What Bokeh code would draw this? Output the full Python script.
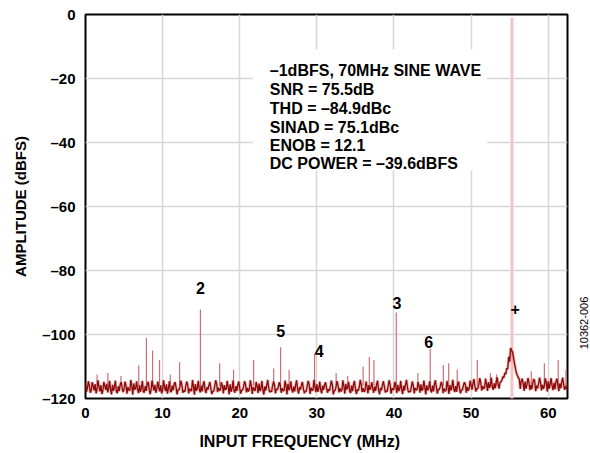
import math
from bokeh.plotting import figure
from bokeh.layouts import row
from bokeh.models import ColumnDataSource, FixedTicker, Label, Range1d
from bokeh.core.properties import value
from bokeh.embed import file_html
from bokeh.resources import INLINE

# ---------------- data ----------------
bin_step = 0.25  # MHz between FFT bins shown

# noise floor, bins at 0, 0.25, 0.5 ... 62.5 MHz (dBFS)
noise_even = [
    -115.2, -116.8, -115.9, -117.4, -116.1, -115.5, -117.0, -116.3, -115.8, -117.6, -116.0, -115.4, -116.9, -117.3, -115.7, -116.5, -117.8, -116.2, -115.6, -116.7,
    -117.1, -115.9, -116.4, -117.5, -116.0, -115.3, -116.8, -117.2, -115.8, -116.6, -117.9, -116.1, -115.5, -116.9, -117.4, -116.2, -115.7, -117.0, -116.5, -115.9,
    -117.3, -116.4, -115.6, -116.8, -117.7, -116.0, -115.4, -116.6, -117.2, -116.3, -115.8, -117.5, -116.1, -115.7, -116.9, -117.6, -116.2, -115.5, -116.7, -117.1,
    -116.0, -115.6, -117.3, -116.5, -115.9, -116.8, -117.8, -116.3, -115.4, -116.6, -117.2, -116.0, -115.8, -117.0, -116.4, -115.6, -116.9, -117.5, -116.1, -115.7,
    -116.8, -117.4, -116.2, -115.5, -116.7, -117.1, -115.9, -116.4, -117.6, -116.0, -115.3, -116.9, -117.3, -116.2, -115.8, -116.6, -117.7, -116.1, -115.6, -117.0,
    -116.4, -115.9, -116.8, -117.5, -116.0, -115.4, -116.7, -117.2, -116.3, -115.7, -117.0, -116.5, -115.8, -116.9, -117.8, -116.1, -115.5, -116.6, -117.3, -116.2,
    -115.6, -116.9, -117.4, -116.0, -115.8, -116.7, -117.1, -116.3, -115.5, -117.6, -116.2, -115.9, -116.8, -117.3, -116.1, -115.4, -116.5, -117.7, -116.0, -115.7,
    -116.9, -117.2, -116.4, -115.6, -116.8, -117.5, -116.1, -115.8, -116.6, -117.0, -116.3, -115.5, -117.4, -116.7, -115.9, -116.2, -117.6, -116.0, -115.6, -116.8,
    -117.1, -116.2, -115.7, -116.9, -117.3, -116.0, -115.5, -116.6, -117.8, -116.4, -115.8, -116.7, -117.2, -116.1, -115.6, -117.0, -116.5, -115.9, -116.8, -117.4,
    -116.0, -115.4, -116.6, -117.1, -116.3, -115.7, -116.9, -117.5, -116.2, -115.8, -116.5, -117.0, -116.1, -115.6, -116.8, -117.3, -116.0, -115.5, -116.4, -116.9,
    -115.9, -115.2, -116.3, -116.8, -115.6, -115.0, -116.1, -116.6, -115.4, -114.9, -115.8, -116.4, -115.3, -114.8, -115.5, -115.0, -114.2, -113.5, -112.4, -110.8,
    -108.5, -105.0, -107.2, -110.6, -112.8, -114.0, -114.6, -115.3, -114.7, -115.6, -114.9, -115.8, -115.2, -114.6, -116.0, -115.4, -114.8, -115.7, -116.1, -115.0,
    -114.6, -115.5, -116.0, -115.1, -114.7, -115.9, -115.3, -114.9, -115.7, -116.2, -115.4,
]

# noise floor, bins half-way between, at 0.125, 0.375 ... 62.375 MHz (dBFS)
noise_odd = [
    -117.9, -114.6, -118.2, -114.9, -117.5, -118.4, -114.3, -117.8, -118.6, -114.8, -117.3, -118.1, -114.5, -118.7, -117.6, -114.4, -118.3, -117.7, -114.9, -118.0,
    -114.7, -118.5, -117.4, -114.2, -118.8, -117.2, -114.6, -118.3, -117.9, -114.5, -118.1, -117.6, -114.8, -118.6, -114.4, -117.5, -118.2, -114.7, -117.8, -118.4,
    -114.3, -117.7, -118.5, -114.6, -118.0, -117.4, -114.9, -118.7, -117.3, -114.4, -118.2, -117.9, -114.7, -118.4, -117.5, -114.2, -118.8, -117.6, -114.5, -118.1,
    -117.8, -114.6, -118.3, -117.2, -114.8, -118.6, -117.7, -114.3, -118.0, -117.5, -114.9, -118.4, -117.3, -114.5, -118.7, -117.9, -114.4, -118.2, -117.6, -114.7,
    -118.5, -117.4, -114.6, -118.1, -117.8, -114.3, -118.6, -117.2, -114.8, -118.3, -117.7, -114.5, -118.8, -117.5, -114.2, -118.0, -117.9, -114.7, -118.4, -117.3,
    -114.9, -118.2, -117.6, -114.4, -118.7, -117.4, -114.6, -118.1, -117.8, -114.3, -118.5, -117.2, -114.8, -118.3, -117.7, -114.5, -118.6, -117.5, -114.2, -118.0,
    -117.9, -114.7, -118.4, -117.3, -114.9, -118.2, -117.6, -114.4, -118.7, -117.4, -114.6, -118.1, -117.8, -114.3, -118.5, -117.2, -114.8, -118.3, -117.7, -114.5,
    -118.6, -117.5, -114.2, -118.0, -117.9, -114.7, -118.4, -117.3, -114.9, -118.2, -117.6, -114.4, -118.7, -117.4, -114.6, -118.1, -117.8, -114.3, -118.5, -117.2,
    -114.8, -118.3, -117.7, -114.5, -118.6, -117.5, -114.2, -118.0, -117.9, -114.7, -118.4, -117.3, -114.9, -118.2, -117.6, -114.4, -118.7, -117.4, -114.6, -118.1,
    -117.8, -114.3, -118.5, -117.2, -114.8, -118.3, -117.7, -114.5, -118.6, -117.5, -114.2, -118.0, -117.9, -114.7, -118.4, -117.3, -114.9, -118.2, -117.6, -114.4,
    -117.2, -113.9, -117.8, -116.9, -113.6, -117.5, -117.0, -113.8, -117.6, -116.7, -113.5, -117.3, -116.8, -113.4, -116.9, -114.8, -113.2, -112.0, -110.5, -107.0,
    -104.2, -105.5, -109.0, -112.0, -113.5, -117.0, -113.8, -117.6, -116.9, -113.6, -117.4, -117.1, -113.9, -117.7, -116.8, -113.5, -117.5, -117.0, -113.7, -117.8,
    -116.9, -113.6, -117.4, -117.1, -113.8, -117.7, -116.8, -113.5, -117.3, -117.0,
]

# discrete spurs and harmonics (MHz, dBFS)
spur_freq = [1.5, 2.9, 4.6, 6.9, 7.9, 8.7, 9.6, 11.0, 12.2, 14.9, 17.4, 19.2, 21.8, 24.4,
             25.3, 26.4, 29.7, 32.5, 34.0, 36.0, 36.8, 37.4, 40.3, 43.1, 44.7, 46.4,
             47.1, 48.2, 50.8, 52.5, 53.3, 57.8, 59.5, 61.3, 62.3]
spur_db = [-112.5, -112.0, -113.0, -109.7, -101.0, -105.0, -108.0, -112.5, -108.7, -92.2,
           -109.0, -111.0, -108.0, -110.6, -104.0, -111.0, -106.0, -112.0, -113.0, -110.0,
           -107.0, -108.0, -93.1, -112.0, -104.5, -109.5, -109.0, -111.0, -108.0, -112.0,
           -112.5, -111.5, -109.0, -108.0, -111.0]

# fundamental
fund_freq = [55.3]
fund_db = [-1.0]

# harmonic markers
harm_text = ["2", "5", "4", "3", "6", "+"]
harm_text_freq = [14.9, 25.3, 30.3, 40.4, 44.5, 55.7]
harm_text_db = [-85.6, -98.8, -105.3, -90.0, -102.2, -91.9]

# performance summary
info_lines = ["\u20131dBFS, 70MHz SINE WAVE", "SNR = 75.5dB", "THD = \u201384.9dBc",
              "SINAD = 75.1dBc", "ENOB = 12.1", "DC POWER = \u201339.6dBFS"]
info_db = [-17.5, -23.4, -29.4, -35.3, -40.9, -46.6]
info_freq = 23.9

x_ticks = [0, 10, 20, 30, 40, 50, 60]
y_ticks = [0, -20, -40, -60, -80, -100, -120]
y_tick_labels = ["0", "\u201320", "\u201340", "\u201360", "\u201380", "\u2013100", "\u2013120"]

x_min, x_max = 0, 62.5
y_min, y_max = -120, 0
spur_base = -116.0

figure_id = "10362-006"

# ---------------- build ----------------
f_even = [i * bin_step for i in range(len(noise_even))]
f_odd = [(i + 0.5) * bin_step for i in range(len(noise_odd))]
pts = sorted(zip(f_even + f_odd, noise_even + noise_odd))
noise_src = ColumnDataSource(dict(f=[a for a, b in pts], db=[b for a, b in pts]))

FONT = "Liberation Sans"
W, H = 574, 453

p = figure(width=W, height=H, x_range=(x_min, x_max), y_range=(y_min, y_max),
           output_backend="svg", toolbar_location=None,
           min_border_left=85, min_border_right=7, min_border_top=14, min_border_bottom=55)
p.background_fill_color = "white"
p.border_fill_color = "white"
p.outline_line_color = "black"
p.outline_line_width = 2

p.xaxis.ticker = FixedTicker(ticks=x_ticks)
p.yaxis.ticker = FixedTicker(ticks=y_ticks)
p.yaxis.major_label_overrides = {t: l for t, l in zip(y_ticks, y_tick_labels)}
for ax in (p.xaxis, p.yaxis):
    ax.axis_line_color = None
    ax.major_tick_line_color = None
    ax.minor_tick_line_color = None
    ax.major_tick_out = 0
    ax.major_tick_in = 0
    ax.minor_tick_out = 0
    ax.minor_tick_in = 0
    ax.major_label_text_font = FONT
    ax.major_label_text_font_style = "bold"
    ax.major_label_text_font_size = "15px"
    ax.major_label_text_color = "black"
    ax.axis_label_text_font = FONT
    ax.axis_label_text_font_style = "bold"
    ax.axis_label_text_color = "black"
p.xaxis.axis_label = "INPUT FREQUENCY (MHz)" + "\u00a0" * 12
p.yaxis.axis_label = "AMPLITUDE (dBFS)"
p.xaxis.axis_label_text_font_size = "16px"
p.yaxis.axis_label_text_font_size = "15px"
p.yaxis.major_label_standoff = 10
p.xaxis.major_label_standoff = 9
p.yaxis.axis_label_standoff = 10
p.xaxis.axis_label_standoff = 12

for g in (p.xgrid, p.ygrid):
    g.grid_line_color = "#d6d6d6"
    g.grid_line_width = 1.5

# fundamental (light pink band + slightly darker core)
p.vbar(x=fund_freq, top=fund_db, bottom=y_min, width=0.42,
       fill_color="#f8d2d2", line_color=None)
p.vbar(x=fund_freq, top=fund_db, bottom=y_min, width=0.12,
       fill_color="#eeb0b0", line_color=None)

# spurs
p.segment(x0=spur_freq, y0=[spur_base] * len(spur_freq), x1=spur_freq, y1=spur_db,
          line_color="#cc6f74", line_width=1.2)

# noise floor: light halo + dark trace
p.line("f", "db", source=noise_src, line_color="#c04848", line_width=3.2, line_alpha=0.35)
p.line("f", "db", source=noise_src, line_color="#8c0a0a", line_width=1.3)

# summary box
p.quad(left=[21.7], right=[52.1], top=[-10.9], bottom=[-48.75],
       fill_color="white", line_color=None)
p.text(x=[info_freq] * len(info_lines), y=info_db, text=info_lines,
       text_font=value(FONT), text_font_style="bold", text_font_size="16px",
       text_color="black", text_baseline="alphabetic", text_align="left")

# harmonic numbers
p.text(x=harm_text_freq, y=harm_text_db, text=harm_text,
       text_font=value(FONT), text_font_style="bold", text_font_size="16px",
       text_color="black", text_baseline="middle", text_align="center")

# narrow side strip carrying the figure id, vertical
side = figure(width=16, height=H, x_range=Range1d(0, 16), y_range=Range1d(0, H),
              output_backend="svg", toolbar_location=None, title=None,
              x_axis_location=None, y_axis_location=None,
              min_border_left=0, min_border_right=0, min_border_top=0, min_border_bottom=0)
side.outline_line_color = None
side.xgrid.visible = False
side.ygrid.visible = False
side.background_fill_color = "white"
side.border_fill_color = "white"
side.add_layout(Label(x=9, y=89, text=figure_id, angle=math.pi / 2,
                      text_font=FONT, text_font_size="11px", text_color="black",
                      text_align="center", text_baseline="middle"))

layout = row(p, side)
open("out.html", "w").write(file_html(layout, INLINE))
